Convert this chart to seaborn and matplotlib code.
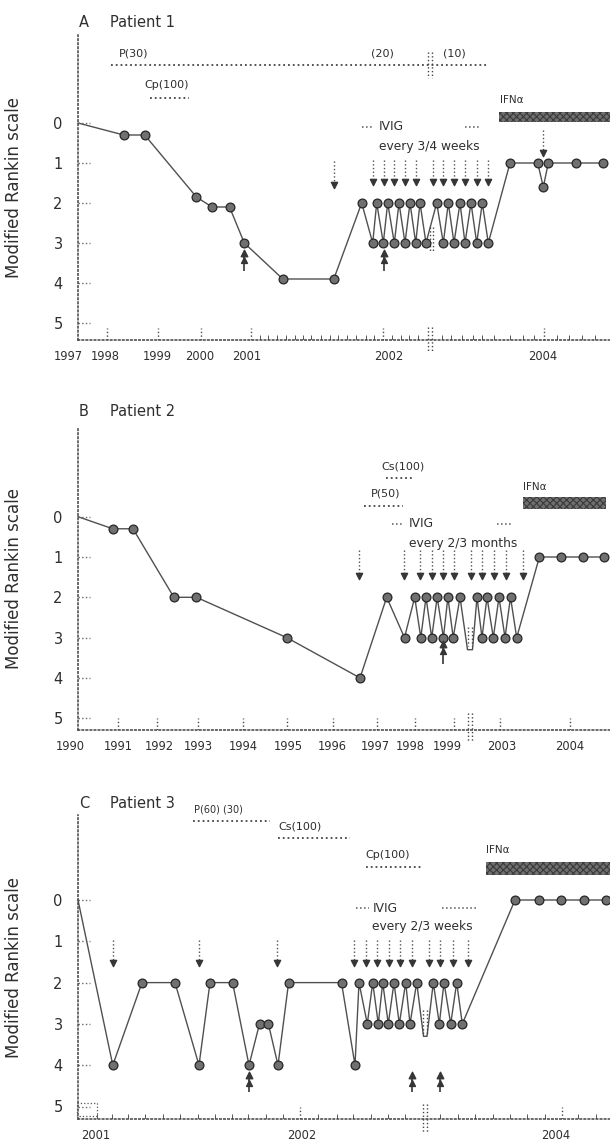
import numpy as np
import pandas as pd
import matplotlib
matplotlib.use("Agg")
import matplotlib.pyplot as plt
from matplotlib.patches import Rectangle
import seaborn as sns

# ---------------- DATA ----------------
# x = position along each panel's broken time axis (axis units, 0 = y axis)
# y = modified Rankin scale score; visit = 1 where a visit marker is drawn
A_pos = [0, 45.7, 66.7, 118.4, 134, 151.5, 166.3, 204.8, 255.8,
         283.7, 294.7, 298.7, 305.3, 309.7, 316.3, 321, 327, 332, 337.7, 342, 348,
         358.7, 365.3, 370.3, 376, 382, 387, 393, 398.7, 404.3, 410.3,
         432, 459.7, 465.3, 470.3, 497.7, 525.3]
A_mrs = [0, 0.3, 0.3, 1.85, 2.1, 2.1, 3, 3.9, 3.9,
         2, 3, 2, 3, 2, 3, 2, 3, 2, 3, 2, 3,
         2, 3, 2, 3, 2, 3, 2, 3, 2, 3,
         1, 1, 1.6, 1, 1, 1]
A_visit = [0] + [1] * 36

B_pos = [0, 34.8, 55, 95.9, 118.4, 208.7, 282,
         308.7, 326.5, 336.7, 342.8, 348, 353.7, 359.2, 365.4, 369.9, 375.2, 382,
         389.5, 394.5,
         399, 404, 409, 415.3, 421, 427, 432.5, 438.7,
         461.4, 483.3, 505.4, 526.2]
B_mrs = [0, 0.3, 0.3, 2, 2, 3, 4,
         2, 3, 2, 3, 2, 3, 2, 3, 2, 3, 2,
         3.3, 3.3,
         2, 3, 2, 3, 2, 3, 2, 3,
         1, 1, 1, 1]
B_visit = [0] + [1] * 6 + [1] * 11 + [0, 0] + [1] * 8 + [1] * 4

C_pos = [0, 34.8, 64, 97, 121, 132, 154.6, 171, 181.5, 190.4, 200, 210.6, 263.5, 277,
         281, 289.3, 294.7, 300.3, 304.7, 310.3, 316, 321.3, 327.7, 332, 338.7,
         345.5, 349,
         355.3, 361.3, 366, 372.7, 378.7, 384.3,
         437, 460.5, 483.2, 505.8, 528]
C_mrs = [0, 4, 2, 2, 4, 2, 2, 4, 3, 3, 4, 2, 2, 4,
         2, 3, 2, 3, 2, 3, 2, 3, 2, 3, 2,
         3.3, 3.3,
         2, 3, 2, 3, 2, 3,
         0, 0, 0, 0, 0]
C_visit = [0] + [1] * 13 + [1] * 11 + [0, 0] + [1] * 6 + [1] * 5

# relapses / IVIG infusions (down arrows): position, arrow top, arrow tip
A_down_pos = [256.3, 295.3, 306, 316.3, 327, 337.7, 354.7, 365.3, 376, 387, 398.7, 410.3, 465.3]
A_down_top = [0.95] + [0.93] * 11 + [0.18]
A_down_tip = [1.55] + [1.48] * 11 + [0.76]
B_down_pos = [281.3, 326.3, 342.3, 353.8, 365.4, 376, 393.4, 404.2, 416, 427.8, 445.2]
B_down_top = [0.83] * 11
B_down_tip = [1.48] * 11
C_down_pos = [34.8, 121.2, 199.4, 276, 288, 299.3, 310.7, 322.3, 333.7, 351.3, 362, 374.7, 390.3]
C_down_top = [0.97] * 13
C_down_tip = [1.53] * 13

# up arrows (solid)
A_up_pos = [166.3, 306]
A_up_tip, A_up_tail = 3.25, 3.7
B_up_pos = [365.3]
B_up_tip, B_up_tail = 3.15, 3.65
C_up_pos = [171, 334.3, 361.6]
C_up_tip, C_up_tail = 4.24, 4.65

# treatment periods: (start, end, level)
A_treat = [(33, 410, -1.45), (72, 111, -0.62)]
B_treat = [(308, 336, -0.95), (285.7, 324.6, -0.27)]
C_treat = [(114.6, 192.4, -1.91), (200, 272, -1.49), (287.7, 344, -0.79)]
# IVIG short dashes
A_dash = [(283.7, 295.3, 0.1), (387, 402, 0.1)]
B_dash = [(313.7, 325.3, 0.18), (418.7, 435.3, 0.18)]
C_dash = [(278, 291.3, 0.2), (363.7, 398.7, 0.2)]
# IFN-alpha bars: start, end, top, bottom
A_ifn = (421, 532, -0.28, -0.03)
B_ifn = (445, 528, -0.5, -0.2)
C_ifn = (407.5, 532, -0.93, -0.6)

# axis labels
A_year_labels = ['1997', '1998', '1999', '2000', '2001', '2002', '2004']
A_year_label_pos = [-10, 27, 79.5, 122, 169, 311, 465]
A_year_ticks = [29, 79.5, 123, 173, 305, 466]
A_month_ticks = [182, 190, 199, 208, 216.5, 225, 233, 243, 252, 260, 269, 278, 288, 296,
                 314, 323, 331, 340, 363.5, 373, 384, 394.5, 404, 416, 432, 445, 456,
                 479, 491, 503.5, 517]
B_year_labels = ['1990', '1991', '1992', '1993', '1994', '1995', '1996', '1997', '1998',
                 '1999', '2003', '2004']
B_year_label_pos = [-8, 40.6, 81.5, 120.4, 165, 210, 254.6, 297.4, 332.4, 369, 424, 492]
B_year_ticks = [40, 79, 120.4, 165, 209, 254.6, 299, 337.4, 376.4, 422, 492]
B_month_ticks = []
C_year_labels = ['2001', '2002', '2004']
C_year_label_pos = [17.3, 223.5, 478]
C_year_ticks = [222, 483.7]
C_month_ticks = [18.7, 33.7, 50.3, 67, 85.3, 102, 120.3, 137, 153.7, 170.3, 187.7, 205.3,
                 240.3, 258.7, 275.3, 292.7, 310.3, 327, 362, 379.7, 397, 414.7, 432,
                 449.3, 467, 500.3, 518]

mrs_ticks = [0, 1, 2, 3, 4, 5]
ylabel = "Modified Rankin scale"

# ---------------- STYLE ----------------
sns.set_style("ticks")
plt.rcParams['font.family'] = ['DejaVu Sans']
plt.rcParams['hatch.linewidth'] = 0.8
INK = '#2e2e2e'
LINE = '#505050'

fig = plt.figure(figsize=(6.10, 11.41), dpi=100)
H = 1141.0
W = 610.0


def make_axes(zero_px, ppu, bottom_px, top_px):
    left = 48 / W
    width = (610 - 48) / W
    ax = fig.add_axes([left, 1 - bottom_px / H, width, (bottom_px - top_px) / H])
    ax.set_xlim(-30, 532)
    ax.set_ylim((bottom_px - zero_px) / ppu, (top_px - zero_px) / ppu)
    return ax


def draw_panel(ax, letter, title, title_v, pos, mrs, visit,
               down_pos, down_top, down_tip, up_pos, up_tip, up_tail,
               treat, dash, ifn, texts, breaks,
               xlabs, xlab_pos, xticks_major, xticks_minor):
    df = pd.DataFrame({'pos': pos, 'mrs': mrs, 'visit': visit})
    sns.lineplot(data=df, x='pos', y='mrs', ax=ax, sort=False, estimator=None,
                 color=LINE, lw=1.0, zorder=2)
    sns.scatterplot(data=df[df.visit == 1], x='pos', y='mrs', ax=ax, s=40,
                    color='#707070', edgecolor='#262626', linewidth=0.9, zorder=3)
    # down arrows
    ax.vlines(down_pos, down_top, down_tip, colors=LINE, linestyles=':', lw=1.0)
    ax.scatter(down_pos, down_tip, marker='v', s=20, color='#363636', zorder=3)
    # up arrows
    ax.vlines(up_pos, up_tip, up_tail, colors='#363636', lw=1.2)
    ax.scatter(up_pos, [up_tip] * len(up_pos), marker='^', s=22, color='#363636', zorder=3)
    ax.scatter(up_pos, [up_tip + 0.18] * len(up_pos), marker='^', s=18, color='#363636', zorder=3)
    # treatments
    for s, e, lv in treat:
        ax.hlines(lv, s, e, colors='#444444', linestyles=':', lw=1.3)
    for s, e, lv in dash:
        ax.hlines(lv, s, e, colors='#555555', linestyles=':', lw=1.1)
    s, e, t, b = ifn
    ax.barh(y=(t + b) / 2, width=e - s, left=s, height=b - t, color='#6f6f6f',
            edgecolor='#3a3a3a', hatch='xxxxx', linewidth=0, clip_on=False, zorder=2)
    for txt, x, v, ha, size in texts:
        ax.text(x, v, txt, ha=ha, va='center', fontsize=size, color=INK, clip_on=False)
    # break marks
    for x, v0, v1 in breaks:
        ax.vlines([x - 1.6, x + 1.6], v0, v1, colors='#444444', linestyles=':', lw=1.0,
                  clip_on=False)
    # title
    ax.text(1, title_v, letter, ha='left', va='center', fontsize=10.5, color=INK, clip_on=False)
    ax.text(32, title_v, title, ha='left', va='center', fontsize=10.5, color=INK, clip_on=False)
    # spines
    sns.despine(ax=ax)
    ax.spines['left'].set_position(('data', 0))
    ax.spines['bottom'].set_bounds(0, 532)
    for sp in ['left', 'bottom']:
        ax.spines[sp].set_linestyle(':')
        ax.spines[sp].set_color('#444444')
        ax.spines[sp].set_linewidth(1.1)
    # y ticks
    ax.set_yticks(mrs_ticks)
    ax.set_yticklabels([str(t) for t in mrs_ticks])
    ax.hlines(mrs_ticks, 0, 12, colors='#666666', linestyles=':', lw=1.0)
    ax.tick_params(axis='y', length=0, pad=11, labelsize=10.5, labelcolor=INK)
    # x ticks
    ax.set_xticks(xlab_pos)
    ax.set_xticklabels(xlabs)
    ax.tick_params(axis='x', length=0, pad=7, labelsize=8.3, labelcolor=INK)
    tr = ax.get_xaxis_transform()
    ax.vlines(xticks_major, 0, 0.04, transform=tr, colors='#444444', linestyles=':', lw=1.0)
    if len(xticks_minor):
        ax.vlines(xticks_minor, 0, 0.016, transform=tr, colors='#555555', lw=0.7)
    ax.set_xlabel('')
    ax.set_ylabel(ylabel, fontsize=12, color=INK)
    ax.yaxis.set_label_coords(-0.045, 0.5)


axA = make_axes(123, 40.0, 340, 35)
axB = make_axes(516.7, 40.3, 730, 427)
axC = make_axes(900, 41.3, 1119.3, 815)

draw_panel(axA, 'A', 'Patient 1', -2.52, A_pos, A_mrs, A_visit,
           A_down_pos, A_down_top, A_down_tip, A_up_pos, A_up_tip, A_up_tail,
           A_treat, A_dash, A_ifn,
           [('P(30)', 55.5, -1.75, 'center', 8), ('(20)', 304.5, -1.75, 'center', 8),
            ('(10)', 376, -1.75, 'center', 8), ('Cp(100)', 89, -0.95, 'center', 8),
            ('IFNα', 422, -0.57, 'left', 7.5), ('IVIG', 301, 0.1, 'left', 8.8),
            ('every 3/4 weeks', 301, 0.58, 'left', 8.8)],
           [(352, -1.78, -1.12), (353.5, 2.6, 3.2), (352, 5.1, 5.7)],
           A_year_labels, A_year_label_pos, A_year_ticks, A_month_ticks)

draw_panel(axB, 'B', 'Patient 2', -2.6, B_pos, B_mrs, B_visit,
           B_down_pos, B_down_top, B_down_tip, B_up_pos, B_up_tip, B_up_tail,
           B_treat, B_dash, B_ifn,
           [('Cs(100)', 325.5, -1.24, 'center', 8), ('P(50)', 308, -0.58, 'center', 8),
            ('IFNα', 445, -0.74, 'left', 7.5), ('IVIG', 331, 0.18, 'left', 8.8),
            ('every 2/3 months', 331, 0.66, 'left', 8.8)],
           [(392, 2.73, 3.22), (392, 4.87, 5.6)],
           B_year_labels, B_year_label_pos, B_year_ticks, B_month_ticks)

draw_panel(axC, 'C', 'Patient 3', -2.34, C_pos, C_mrs, C_visit,
           C_down_pos, C_down_top, C_down_tip, C_up_pos, C_up_tip, C_up_tail,
           C_treat, C_dash, C_ifn,
           [('P(60) (30)', 116.5, -2.18, 'left', 7), ('Cs(100)', 200, -1.77, 'left', 8),
            ('Cp(100)', 287.7, -1.09, 'left', 8), ('IFNα', 408, -1.21, 'left', 7.5),
            ('IVIG', 295, 0.2, 'left', 8.8), ('every 2/3 weeks', 294, 0.65, 'left', 8.8)],
           [(347, 2.66, 3.27), (347, 4.94, 5.64)],
           C_year_labels, C_year_label_pos, C_year_ticks, C_month_ticks)

# small box at the origin of panel C
axC.add_patch(Rectangle((-1.3, 4.92), 20, 0.31, fill=False, ls=':', lw=0.9,
                        edgecolor='#555555', clip_on=False))

fig.savefig('out.png', dpi=100)
